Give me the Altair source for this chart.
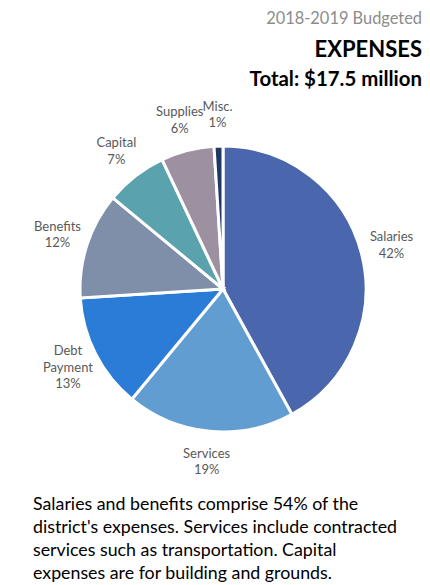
import altair as alt
import pandas as pd

categories = ["Salaries", "Services", "Debt Payment", "Benefits", "Capital", "Supplies", "Misc."]
values = [42, 19, 13, 12, 7, 6, 1]
colors = ["#4A66AC", "#629DD1", "#2A7CD6", "#7F8FA9", "#5AA2AE", "#9D90A0", "#1F3864"]

header = "2018-2019 Budgeted"
title = "EXPENSES"
subtitle = "Total: $17.5 million"
note_lines = [
    "Salaries and benefits comprise 54% of the",
    "district's expenses. Services include contracted",
    "services such as transportation. Capital",
    "expenses are for building and grounds.",
]

df = pd.DataFrame({
    "category": categories,
    "value": values,
    "idx": list(range(len(categories))),
})
df["label"] = [c.replace(" ", "\n") + "\n" + f"{v}%" for c, v in zip(categories, values)]

W, H = 414, 577
CX, CY = 215, 281
LH = 16.5
TAU = 6.283185307179586

pie = alt.Chart(df).mark_arc(radius=143, stroke="white", strokeWidth=3).encode(
    theta=alt.Theta("value:Q", stack=True),
    order=alt.Order("idx:Q"),
    color=alt.Color("category:N", scale=alt.Scale(domain=categories, range=colors), legend=None),
    x=alt.value(CX), y=alt.value(CY),
)

labels = alt.Chart(df).transform_window(
    cum="sum(value)", sort=[alt.SortField("idx")], frame=[None, 0]
).transform_joinaggregate(
    total="sum(value)"
).transform_calculate(
    mid="(datum.cum - datum.value / 2) / datum.total",
    yoff=f"-(length(split(datum.label, '\\n')) - 1) * {LH / 2}",
).mark_text(
    radius=174, font="Lato", fontSize=13, color="#595959",
    lineBreak="\n", align="center", baseline="middle", lineHeight=LH,
).encode(
    theta=alt.Theta("mid:Q", stack=None, scale=alt.Scale(domain=[0, 1], range=[0, TAU])),
    text="label:N",
    x=alt.value(CX), y=alt.value(CY),
    yOffset=alt.YOffset("yoff:Q", scale=None),
)

font = "Lato"
t1 = alt.Chart().mark_text(font=font, fontSize=16.4, color="#8C8C8C", align="right", baseline="middle").encode(
    x=alt.value(414), y=alt.value(11), text=alt.datum(header))
t2 = alt.Chart().mark_text(font=font, fontSize=22, fontWeight="bold", color="#000000", align="right", baseline="middle").encode(
    x=alt.value(414), y=alt.value(42), text=alt.datum(title))
t3 = alt.Chart().mark_text(font=font, fontSize=20.4, fontWeight="bold", color="#000000", align="right", baseline="middle").encode(
    x=alt.value(414), y=alt.value(72), text=alt.datum(subtitle))

note = alt.Chart().mark_text(font=font, fontSize=17.8, color="#000000", align="left", baseline="middle",
                             lineBreak="\n", lineHeight=23).encode(
    x=alt.value(25), y=alt.value(497), text=alt.datum("\n".join(note_lines)))

chart = alt.layer(pie, labels, t1, t2, t3, note).resolve_scale(theta="independent").properties(
    width=W, height=H, padding=0, autosize=alt.AutoSizeParams(type="none"),
).configure_view(stroke=None)

chart.save("out.html", embed_options={"renderer": "svg", "actions": False})
